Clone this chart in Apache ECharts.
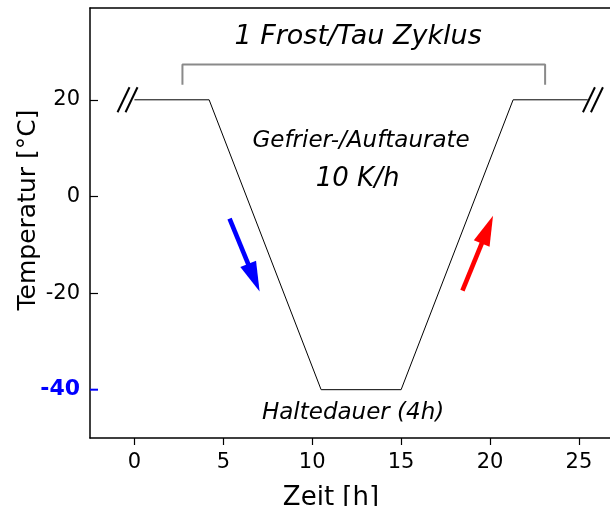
<!DOCTYPE html>
<html>
<head>
<meta charset="utf-8">
<script src="https://cdn.jsdelivr.net/npm/echarts@6/dist/echarts.min.js"></script>
<style>
  html, body { margin: 0; padding: 0; background: #fff; }
  #chart { width: 610px; height: 506px; }
</style>
</head>
<body>
<div id="chart"></div>
<script>
// Temperature profile of one freeze/thaw cycle
const times = [0, 4.2, 10.5, 15, 21.3, 25.5];
const temps = [20, 20, -40, -40, 20, 20];

// Bracket spanning one cycle
const bracketTimes = [2.7, 2.7, 23.1, 23.1];
const bracketTemps = [23.1, 27.3, 27.3, 23.1];

// Axis break marks on the holding lines
const breakTimes = [-0.39, 25.79];
const breakTemps = [20, 20];

// Direction arrows: [t0, T0, t1, T1]
const coolArrow = [5.35, -4.6, 7.04, -19.7];
const heatArrow = [18.45, -19.5, 20.17, -4.0];

const xTicks = [0, 5, 10, 15, 20, 25];
const yTicks = [-40, -20, 0, 20];

const texts = {
  cycle: '1 Frost/Tau Zyklus',
  rate: 'Gefrier-/Auftaurate',
  rateValue: '10 K/h',
  hold: 'Haltedauer (4h)',
  xName: 'Zeit [h]',
  yName: 'Temperatur [°C]'
};

const FONT = 'DejaVu Sans';
const chart = echarts.init(document.getElementById('chart'), null, { renderer: 'canvas' });

const zip = (a, b) => a.map((v, i) => [v, b[i]]);

function arrowItem(params, api) {
  const p0 = api.coord([api.value(0), api.value(1)]);
  const p1 = api.coord([api.value(2), api.value(3)]);
  const dx = p1[0] - p0[0], dy = p1[1] - p0[1];
  const len = Math.hypot(dx, dy);
  const ux = dx / len, uy = dy / len;
  const nx = -uy, ny = ux;
  const headLen = 30, headHalf = 8.5, shaftHalf = 2.3;
  const bx = p1[0] - ux * headLen, by = p1[1] - uy * headLen;
  const color = api.visual('color');
  return {
    type: 'group',
    children: [
      {
        type: 'polygon',
        shape: { points: [
          [p0[0] + nx * shaftHalf, p0[1] + ny * shaftHalf],
          [bx + nx * shaftHalf + ux, by + ny * shaftHalf + uy],
          [bx - nx * shaftHalf + ux, by - ny * shaftHalf + uy],
          [p0[0] - nx * shaftHalf, p0[1] - ny * shaftHalf]
        ] },
        style: { fill: color }
      },
      {
        type: 'polygon',
        shape: { points: [
          [p1[0], p1[1]],
          [bx + nx * headHalf, by + ny * headHalf],
          [bx - nx * headHalf, by - ny * headHalf]
        ] },
        style: { fill: color }
      }
    ]
  };
}

function breakItem(params, api) {
  const c = api.coord([api.value(0), api.value(1)]);
  const lines = [-4, 4].map(off => ({
    type: 'line',
    shape: { x1: c[0] + off - 6, y1: c[1] + 12.5, x2: c[0] + off + 6, y2: c[1] - 12.5 },
    style: { stroke: '#000', lineWidth: 2 }
  }));
  return { type: 'group', children: lines };
}

function blueTickItem(params, api) {
  const c = api.coord([api.value(0), api.value(1)]);
  return {
    type: 'line',
    shape: { x1: c[0], y1: c[1], x2: c[0] + 8, y2: c[1] },
    style: { stroke: '#0000ff', lineWidth: 2 }
  };
}

const xMin = -2.5, xMax = 26.75, yMin = -50, yMax = 39;
const tickRich = {
  n: { fontFamily: FONT, fontSize: 21, color: '#000' },
  hl: { fontFamily: FONT, fontSize: 22, fontWeight: 'bold', color: '#0000ff' }
};

chart.setOption({
  animation: false,
  backgroundColor: '#fff',
  grid: { left: 90, right: 0, top: 8, bottom: 68, containLabel: false },
  xAxis: [
    {
      type: 'value', min: xMin, max: xMax,
      axisLine: { show: true, onZero: false, lineStyle: { color: '#000', width: 1.5 } },
      axisTick: { show: true, inside: false, length: 7, lineStyle: { color: '#000', width: 1.2 }, customValues: xTicks },
      axisLabel: {
        show: true, margin: 14, fontFamily: FONT, fontSize: 21, color: '#000', customValues: xTicks,
        formatter: v => '{n|' + v + '}', rich: tickRich
      },
      splitLine: { show: false }
    },
    {
      type: 'value', position: 'top', min: xMin, max: xMax,
      axisLine: { show: true, onZero: false, lineStyle: { color: '#000', width: 1.5 } },
      axisTick: { show: false }, axisLabel: { show: false }, splitLine: { show: false }
    }
  ],
  yAxis: {
    type: 'value', min: yMin, max: yMax,
    axisLine: { show: true, onZero: false, lineStyle: { color: '#000', width: 1.5 } },
    axisTick: { show: true, inside: true, length: 8, lineStyle: { color: '#000', width: 1.2 }, customValues: [-20, 0, 20] },
    axisLabel: {
      show: true, margin: 10, fontFamily: FONT, fontSize: 21, color: '#000',
      customValues: yTicks,
      formatter: v => (v === -40 ? '{hl|' + v + '}' : '{n|' + v + '}'),
      rich: tickRich
    },
    splitLine: { show: false }
  },
  series: [
    {
      type: 'line', data: zip(times, temps), showSymbol: false, symbol: 'none',
      lineStyle: { color: '#000', width: 1 }, z: 3, silent: true
    },
    {
      type: 'line', data: zip(bracketTimes, bracketTemps), showSymbol: false, symbol: 'none',
      lineStyle: { color: '#8a8a8a', width: 2 }, z: 2, silent: true
    },
    {
      type: 'custom', renderItem: breakItem, data: zip(breakTimes, breakTemps), z: 4, silent: true
    },
    {
      type: 'custom', renderItem: arrowItem, z: 5, silent: true,
      data: [
        { value: coolArrow, itemStyle: { color: '#0000ff' } },
        { value: heatArrow, itemStyle: { color: '#ff0000' } }
      ]
    },
    {
      type: 'custom', renderItem: blueTickItem, z: 6, silent: true, clip: false,
      data: [[xMin, -40]]
    }
  ]
});

// Annotations anchored in data coordinates
const px = (x, y) => chart.convertToPixel({ gridIndex: 0 }, [x, y]);
function note(text, x, y, size) {
  const p = px(x, y);
  return {
    type: 'text', x: p[0], y: p[1], z: 10,
    style: { text, fontFamily: FONT, fontStyle: 'italic', fontSize: size, fill: '#000', align: 'center', verticalAlign: 'middle' }
  };
}

chart.setOption({
  graphic: [
    note(texts.cycle, 12.58, 33.0, 27),
    note(texts.rate, 12.75, 11.5, 23),
    note(texts.rateValue, 12.55, 3.6, 26),
    note(texts.hold, 12.3, -44.9, 23),
    {
      type: 'text', x: 331, y: 498, z: 10,
      style: { text: texts.xName, fontFamily: FONT, fontSize: 26, fill: '#000', align: 'center', verticalAlign: 'middle' }
    },
    {
      type: 'text', x: 28, y: 210, rotation: Math.PI / 2, z: 10,
      style: { text: texts.yName, fontFamily: FONT, fontSize: 25, fill: '#000', align: 'center', verticalAlign: 'middle' }
    }
  ]
});
</script>
</body>
</html>
